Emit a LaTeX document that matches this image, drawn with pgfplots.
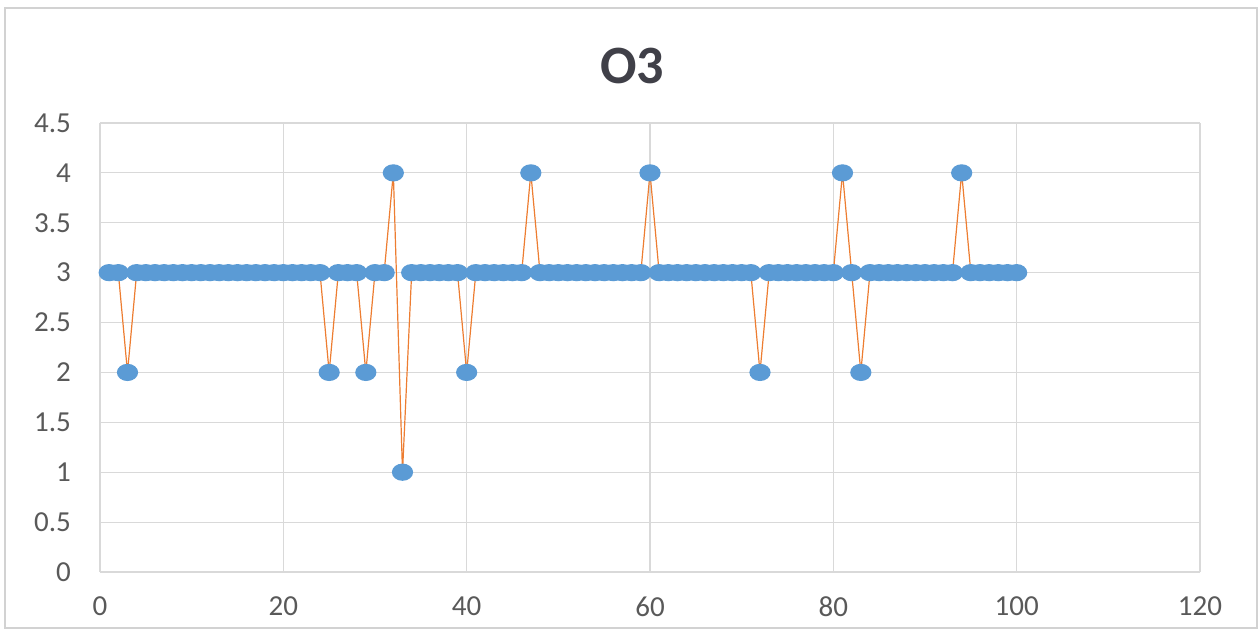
\documentclass[border=0pt]{standalone}
\usepackage{pgfplots}
\pgfplotsset{compat=1.18}
\usetikzlibrary{calc}
\usepackage{fontspec}
\setmainfont{Carlito}
\definecolor{tickgray}{HTML}{595959}
\definecolor{titlegray}{HTML}{404048}
\definecolor{gridgray}{HTML}{D9D9D9}
\definecolor{xblue}{HTML}{5B9BD5}
\definecolor{xorange}{HTML}{ED7D31}
\begin{document}
\begin{tikzpicture}
\begin{axis}[
  name=ax,
  scale only axis,
  width=550pt, height=224.5pt,
  xmin=0, xmax=120, ymin=0, ymax=4.5,
  xtick={0,20,...,120},
  ytick={0,0.5,...,4.5},
  yticklabels={0,0.5,1,1.5,2,2.5,3,3.5,4,4.5},
  grid=major,
  major grid style={gridgray, line width=0.6pt},
  axis line style={draw=none},
  tick style={draw=none},
  ticklabel style={font=\fontsize{14.5}{16}\selectfont, text=tickgray},
  /pgf/number format/assume math mode=true,
  xticklabel style={yshift=-9pt},
  yticklabel style={xshift=-11pt},
  title={\textbf{O3}},
  title style={font=\fontsize{27}{30}\selectfont, text=titlegray, yshift=10pt, xshift=-9pt},
  clip=false,
]
\addplot[xorange, line width=0.6pt, mark=*, mark size=4pt,
  mark options={xblue, draw=xblue, fill=xblue, xscale=1.25}] coordinates {
(1,3)(2,3)(3,2)(4,3)(5,3)(6,3)(7,3)(8,3)(9,3)(10,3)
(11,3)(12,3)(13,3)(14,3)(15,3)(16,3)(17,3)(18,3)(19,3)(20,3)
(21,3)(22,3)(23,3)(24,3)(25,2)(26,3)(27,3)(28,3)(29,2)(30,3)
(31,3)(32,4)(33,1)(34,3)(35,3)(36,3)(37,3)(38,3)(39,3)(40,2)
(41,3)(42,3)(43,3)(44,3)(45,3)(46,3)(47,4)(48,3)(49,3)(50,3)
(51,3)(52,3)(53,3)(54,3)(55,3)(56,3)(57,3)(58,3)(59,3)(60,4)
(61,3)(62,3)(63,3)(64,3)(65,3)(66,3)(67,3)(68,3)(69,3)(70,3)
(71,3)(72,2)(73,3)(74,3)(75,3)(76,3)(77,3)(78,3)(79,3)(80,3)
(81,4)(82,3)(83,2)(84,3)(85,3)(86,3)(87,3)(88,3)(89,3)(90,3)
(91,3)(92,3)(93,3)(94,4)(95,3)(96,3)(97,3)(98,3)(99,3)(100,3)
};
\end{axis}
\draw[gray!35, line width=0.8pt]
  ($(ax.south west)+(-47.5pt,-28pt)$) rectangle ($(ax.north east)+(28.5pt,57.5pt)$);
\path ($(ax.south west)+(-50pt,-31pt)$) rectangle ($(ax.north east)+(29.5pt,61.5pt)$);
\end{tikzpicture}
\end{document}
